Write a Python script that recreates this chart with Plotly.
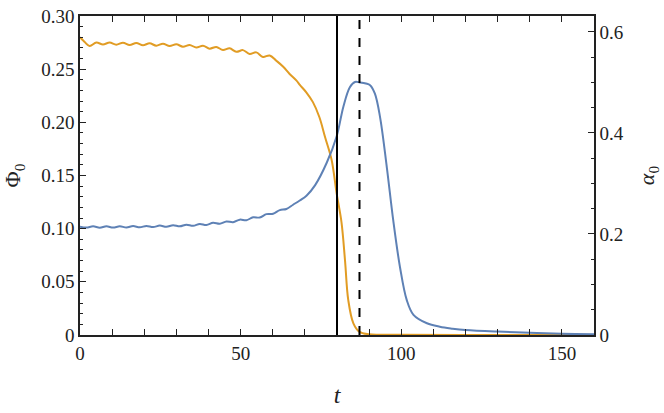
import plotly.graph_objects as go

# Phi_0 (orange, left axis)
t_phi = [0, 1.0, 3.0, 5.08, 7.15, 9.23, 11.3, 13.38, 15.45, 17.53, 19.6, 21.68, 23.75, 25.83,
         27.9, 29.98, 32.05, 34.13, 36.2, 38.28, 40.35, 42.43, 44.5, 46.58, 48.65, 50.73,
         52.8, 54.88, 56.95, 59.03, 61.1, 63.18, 65.25, 67.33, 68.5, 70.5, 72.5, 74.5, 76.3,
         78.3, 79.9, 81.4, 82.5, 83.5, 85.1, 87.0, 90.0, 100.0, 120.0, 160.0]
phi = [0.2800, 0.2770, 0.2718, 0.2750, 0.2732, 0.2750, 0.2730, 0.2749, 0.2728, 0.2746, 0.2725,
       0.2743, 0.2721, 0.2739, 0.2717, 0.2734, 0.2711, 0.2728, 0.2703, 0.2720, 0.2693, 0.2709,
       0.2680, 0.2696, 0.2663, 0.2679, 0.2643, 0.2658, 0.2615, 0.2629, 0.2580, 0.2525, 0.2455,
       0.2395, 0.2350, 0.2280, 0.2190, 0.2050, 0.1860, 0.1650, 0.1330, 0.1060, 0.0700, 0.0330,
       0.0110, 0.0030, 0.0008, 0.0002, 0.0, 0.0]

# alpha_0 (blue, right axis)
t_alpha = [0, 2.0, 4.08, 6.15, 8.23, 10.3, 12.38, 14.45, 16.53, 18.6, 20.68, 22.75, 24.83, 26.9,
           28.98, 31.05, 33.13, 35.2, 37.28, 39.35, 41.43, 43.5, 45.58, 47.65, 49.73, 51.8,
           53.88, 55.95, 58.03, 60.1, 62.18, 64.25, 66.33, 68.4, 70.5, 73.2, 76.8, 79.9, 82.0,
           84.0, 85.6, 87.1, 89.0, 90.3, 91.8, 93.4, 95.5, 97.5, 99.6, 101.7, 103.8, 108.0,
           112.0, 116.0, 120.0, 130.0, 140.0, 150.0, 160.0]
alpha = [0.2143, 0.2126, 0.2151, 0.2124, 0.2151, 0.2126, 0.2153, 0.2128, 0.2156, 0.2132, 0.2160,
         0.2137, 0.2166, 0.2143, 0.2174, 0.2151, 0.2185, 0.2162, 0.2200, 0.2179, 0.2221, 0.2202,
         0.2248, 0.2233, 0.2284, 0.2273, 0.2330, 0.2326, 0.2393, 0.2400, 0.2473, 0.2494, 0.2579,
         0.2663, 0.2758, 0.2968, 0.3410, 0.3936, 0.4526, 0.4905, 0.5010, 0.5000, 0.4978, 0.4947,
         0.4778, 0.4315, 0.3326, 0.2273, 0.1347, 0.0695, 0.0400, 0.0232, 0.0164, 0.0126, 0.0099,
         0.0067, 0.0046, 0.0027, 0.0017]

t_solid = 80.0
t_dashed = 87.0

phi_ticks = [0, 0.05, 0.10, 0.15, 0.20, 0.25, 0.30]
phi_labels = ["0", "0.05", "0.10", "0.15", "0.20", "0.25", "0.30"]
alpha_ticks = [0, 0.2, 0.4, 0.6]
alpha_labels = ["0", "0.2", "0.4", "0.6"]
t_ticks = [0, 50, 100, 150]

font = "Liberation Serif"
axcol = "#222222"

fig = go.Figure()
fig.add_trace(go.Scatter(x=t_phi, y=phi, mode="lines", yaxis="y",
                         line=dict(color="#E19C24", width=2, shape="spline", smoothing=1.0)))
fig.add_trace(go.Scatter(x=t_alpha, y=alpha, mode="lines", yaxis="y2",
                         line=dict(color="#5E81B5", width=2, shape="spline", smoothing=1.0)))

fig.add_vline(x=t_solid, line=dict(color="black", width=2))
fig.add_vline(x=t_dashed, line=dict(color="black", width=2, dash="dash"))

fig.update_layout(
    width=664, height=413,
    margin=dict(l=80, r=70, t=16, b=78),
    plot_bgcolor="white", paper_bgcolor="white",
    showlegend=False,
    font=dict(family=font, size=19, color="#222"),
    xaxis=dict(range=[0, 160], tickvals=t_ticks, ticks="inside", ticklen=6, tickcolor=axcol,
               showline=True, linecolor=axcol, linewidth=1.5, mirror="allticks",
               showgrid=False, zeroline=False, automargin=False,
               minor=dict(ticks="inside", dtick=10, ticklen=3, tickcolor=axcol),
               title=dict(text="<i>t</i>", font=dict(size=24), standoff=24)),
    yaxis=dict(range=[0, 0.30], tickvals=phi_ticks, ticktext=phi_labels, ticks="inside",
               ticklen=6, tickcolor=axcol, showline=True, linecolor=axcol, linewidth=1.5,
               showgrid=False, zeroline=False, automargin=False,
               minor=dict(ticks="inside", dtick=0.01, ticklen=3, tickcolor=axcol),
               title=dict(text="Φ<sub>0</sub>", font=dict(size=22), standoff=16)),
    yaxis2=dict(range=[0, 0.6316], overlaying="y", side="right", tickvals=alpha_ticks,
                ticktext=alpha_labels, ticks="inside", ticklen=6, tickcolor=axcol,
                showline=True, linecolor=axcol, linewidth=1.5, showgrid=False, zeroline=False,
                automargin=False,
                minor=dict(ticks="inside", dtick=0.05, ticklen=3, tickcolor=axcol),
                title=dict(text="<i>α</i><sub>0</sub>", font=dict(size=22), standoff=16)),
)

fig.write_html("out.html", config={"displayModeBar": False},
               post_script="document.body.style.margin='0';")
